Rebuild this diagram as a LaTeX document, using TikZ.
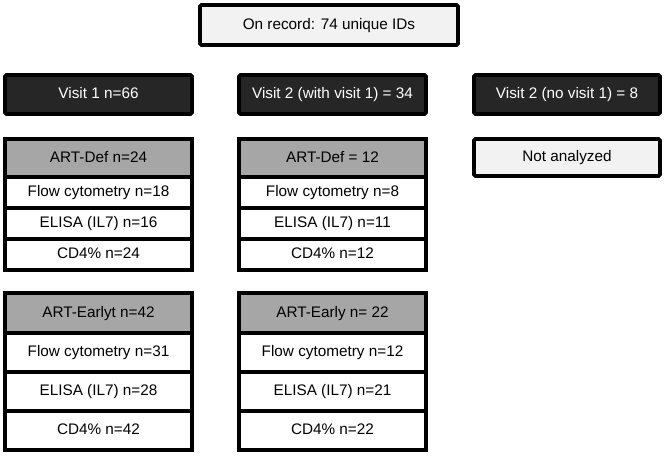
\documentclass[tikz,border=0pt]{standalone}
\usepackage{fontspec}
\setmainfont{Liberation Sans}
\definecolor{lightbox}{HTML}{F2F2F2}
\definecolor{darkbox}{HTML}{262626}
\definecolor{headgrey}{HTML}{A6A6A6}
\tikzset{
  base/.style={draw=black, line width=3.6pt, rectangle, inner sep=0pt, outer sep=0pt,
    font=\fontsize{15.3}{18}\selectfont, text height=11pt, text depth=3pt, align=center},
  lightnode/.style={base, fill=lightbox, rounded corners=1.5pt},
  darknode/.style={base, fill=darkbox, text=white, rounded corners=1.5pt},
  headcell/.style={base, fill=headgrey},
  cell/.style={base, fill=white},
}
\begin{document}
\begin{tikzpicture}[x=1pt, y=-1pt]
\useasboundingbox[fill=white] (0,0) rectangle (666,456);

% top
\node[lightnode, minimum width=258pt, minimum height=40pt] (top) at (329,25) {On record: 74 unique IDs};

% visits
\node[darknode, minimum width=187pt, minimum height=39pt] (v1) at (98.5,94.5) {Visit 1 n=66};
\node[darknode, minimum width=187pt, minimum height=39pt] (v2) at (332.5,94.5) {Visit 2 (with visit 1) = 34};
\node[darknode, minimum width=186pt, minimum height=39pt] (v3) at (567,94.5) {Visit 2 (no visit 1) = 8};

% not analyzed
\node[lightnode, minimum width=186pt, minimum height=37pt] (na) at (567,157.5) {Not analyzed};

% left top group
\node[headcell, minimum width=187pt, minimum height=38pt] (ldh) at (98.5,158) {ART-Def n=24};
\node[cell, minimum width=187pt, minimum height=31pt] (ldf) at (98.5,192.5) {Flow cytometry n=18};
\node[cell, minimum width=187pt, minimum height=31pt] (lde) at (98.5,223.5) {ELISA (IL7) n=16};
\node[cell, minimum width=187pt, minimum height=31pt] (ldc) at (98.5,254.5) {CD4\% n=24};

% middle top group
\node[headcell, minimum width=187pt, minimum height=38pt] (mdh) at (332.5,158) {ART-Def = 12};
\node[cell, minimum width=187pt, minimum height=31pt] (mdf) at (332.5,192.5) {Flow cytometry n=8};
\node[cell, minimum width=187pt, minimum height=31pt] (mde) at (332.5,223.5) {ELISA (IL7) n=11};
\node[cell, minimum width=187pt, minimum height=31pt] (mdc) at (332.5,254.5) {CD4\% n=12};

% left bottom group
\node[headcell, minimum width=187pt, minimum height=40pt] (leh) at (98.5,313) {ART-Earlyt n=42};
\node[cell, minimum width=187pt, minimum height=39pt] (lef) at (98.5,352.5) {Flow cytometry n=31};
\node[cell, minimum width=187pt, minimum height=39pt] (lee) at (98.5,391.5) {ELISA (IL7) n=28};
\node[cell, minimum width=187pt, minimum height=39pt] (lec) at (98.5,430.5) {CD4\% n=42};

% middle bottom group
\node[headcell, minimum width=187pt, minimum height=40pt] (meh) at (332.5,313) {ART-Early n= 22};
\node[cell, minimum width=187pt, minimum height=39pt] (mef) at (332.5,352.5) {Flow cytometry n=12};
\node[cell, minimum width=187pt, minimum height=39pt] (mee) at (332.5,391.5) {ELISA (IL7) n=21};
\node[cell, minimum width=187pt, minimum height=39pt] (mec) at (332.5,430.5) {CD4\% n=22};
\end{tikzpicture}
\end{document}
